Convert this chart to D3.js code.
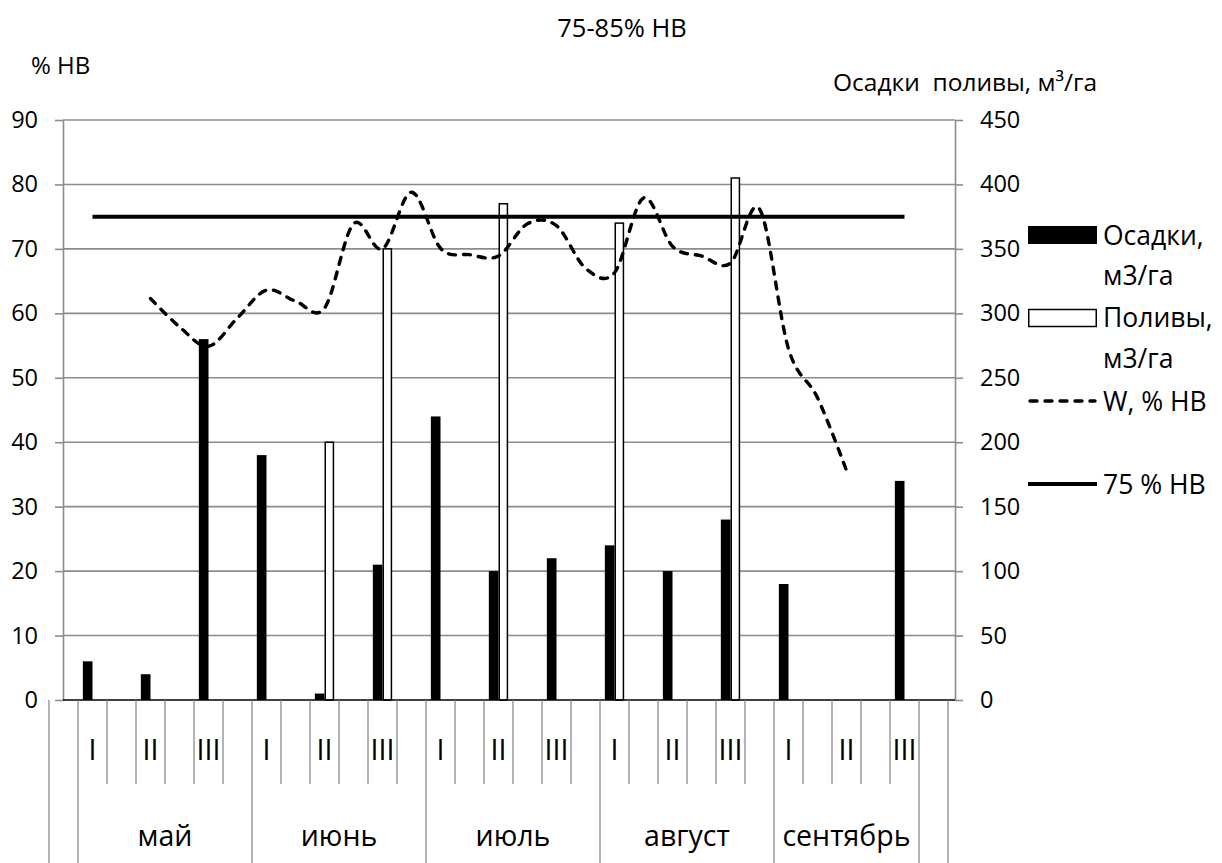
<!DOCTYPE html>
<html><head><meta charset="utf-8">
<script src="https://cdn.jsdelivr.net/npm/d3@7"></script>
<style>
html,body{margin:0;padding:0;background:#fff;}
svg{display:block;font-family:"Open Sans",sans-serif;}
</style></head><body>
<svg id="chart" width="1222" height="863"></svg>
<script>
// ---- data ----
// outer category level (months) and how many inner slots each covers
const monthNames = ["", "май", "июнь", "июль", "август", "сентябрь", ""];
const monthSpans = [1, 6, 6, 6, 6, 5, 1];
// inner category level: one label per slot
const decadeLabels = [
  "",
  "I", "", "II", "", "III", "",
  "I", "", "II", "", "III", "",
  "I", "", "II", "", "III", "",
  "I", "", "II", "", "III", "",
  "I", "", "II", "", "III",
  ""
];
// per decade (May I ... September III), m3/ha
const precipitation = [30, 20, 280, 190, 5, 105, 220, 100, 110, 120, 100, 140, 90, 0, 170];
const irrigation    = [0, 0, 0, 0, 200, 350, 0, 385, 0, 370, 0, 405, 0, 0, 0];
// soil moisture W, % of field capacity, per slot
const moisture = [
  null, null, null,
  62.3, 57.9, 54.9, 59.3, 63.6, 61.9, 60.8, 73.9, 70.0, 78.8,
  70.1, 69.1, 68.9, 73.9, 73.6, 67.0, 66.3, 77.9, 70.4, 68.9,
  67.8, 76.2, 54.5, 46.9, 35.6,
  null, null, null
];
// 75 % threshold, per decade
const threshold = [75, 75, 75, 75, 75, 75, 75, 75, 75, 75, 75, 75, 75, 75, 75];
const leftTicks = [0, 10, 20, 30, 40, 50, 60, 70, 80, 90];
const rightTicks = [0, 50, 100, 150, 200, 250, 300, 350, 400, 450];

// ---- layout ----
const svg = d3.select("#chart");
const plotL = 63, plotR = 955, plotT = 120, plotB = 700;
const grid = "#8c8c8c";

const slots = d3.range(decadeLabels.length);
const x = d3.scaleBand().domain(slots).range([49, 948]).padding(0);
const yL = d3.scaleLinear().domain([0, 90]).range([plotB, plotT]);
const yR = d3.scaleLinear().domain([0, 450]).range([plotB, plotT]);

// slots that carry a decade label hold the bars
const decadeSlots = slots.filter(i => decadeLabels[i] !== "");
const bw = x.bandwidth() / 3;

// gridlines
svg.append("g").selectAll("line").data(leftTicks.filter(d => d > 0)).join("line")
  .attr("x1", plotL).attr("x2", plotR)
  .attr("y1", d => yL(d)).attr("y2", d => yL(d))
  .attr("stroke", grid).attr("stroke-width", 1.6);

// axes
const axL = svg.append("g").attr("transform", `translate(${plotL},0)`)
  .call(d3.axisLeft(yL).tickValues(leftTicks).tickSize(8).tickSizeOuter(0).tickPadding(17));
const axR = svg.append("g").attr("transform", `translate(${plotR},0)`)
  .call(d3.axisRight(yR).tickValues(rightTicks).tickSize(8).tickSizeOuter(0).tickPadding(17));
[axL, axR].forEach(a => {
  a.select(".domain").attr("stroke", grid).attr("stroke-width", 1.6);
  a.selectAll(".tick line").attr("stroke", grid).attr("stroke-width", 1.6);
  a.selectAll(".tick text").attr("fill", "#000")
    .style("font-family", '"Open Sans", sans-serif').style("font-size", "23.5px");
});

// bars: precipitation (filled) left of slot centre, irrigation (outlined) right
const bars = svg.append("g");
bars.selectAll("rect.p").data(precipitation.map((v, i) => ({v, s: decadeSlots[i]})).filter(d => d.v > 0))
  .join("rect").attr("class", "p")
  .attr("x", d => x(d.s) + x.bandwidth() / 2 - bw)
  .attr("width", bw)
  .attr("y", d => yR(d.v)).attr("height", d => yR(0) - yR(d.v))
  .attr("fill", "#000");
bars.selectAll("rect.i").data(irrigation.map((v, i) => ({v, s: decadeSlots[i]})).filter(d => d.v > 0))
  .join("rect").attr("class", "i")
  .attr("x", d => x(d.s) + x.bandwidth() / 2 + 0.75)
  .attr("width", bw - 1.5)
  .attr("y", d => yR(d.v)).attr("height", d => yR(0) - yR(d.v))
  .attr("fill", "#fff").attr("stroke", "#000").attr("stroke-width", 1.5);

// category axis line
svg.append("line").attr("x1", plotL).attr("x2", plotR).attr("y1", plotB).attr("y2", plotB)
  .attr("stroke", "#000").attr("stroke-width", 1.6);

// 75 % line
const thrLine = d3.line().x((d, i) => x(decadeSlots[i]) + x.bandwidth() / 2).y(d => yL(d));
svg.append("path").datum(threshold).attr("d", thrLine)
  .attr("fill", "none").attr("stroke", "#000").attr("stroke-width", 4);

// moisture curve
const wLine = d3.line()
  .defined(d => d != null)
  .x((d, i) => x(i) + x.bandwidth() / 2)
  .y(d => yL(d))
  .curve(d3.curveCardinal.tension(0));
svg.append("path").datum(moisture).attr("d", wLine)
  .attr("fill", "none").attr("stroke", "#000").attr("stroke-width", 3.4)
  .attr("stroke-dasharray", "7,8").attr("stroke-linecap", "round");

// multi-level category labels
const tbl = svg.append("g");
const bounds = d3.range(decadeLabels.length + 1);
const monthStarts = d3.cumsum([0, ...monthSpans]);
const edgeX = k => k < slots.length ? x(k) : x.range()[1];
tbl.selectAll("line").data(bounds).join("line")
  .attr("x1", edgeX).attr("x2", edgeX)
  .attr("y1", plotB).attr("y2", k => monthStarts.includes(k) ? 863 : 784)
  .attr("stroke", "#808080").attr("stroke-width", 1.2);
tbl.selectAll("text.d").data(slots.filter(i => decadeLabels[i] !== "")).join("text")
  .attr("class", "d")
  .attr("x", i => x(i) + x.bandwidth() / 2).attr("y", 760)
  .attr("text-anchor", "middle").style("font-size", "28.5px")
  .text(i => decadeLabels[i]);
tbl.selectAll("text.m").data(monthNames.map((n, j) => ({n, a: monthStarts[j], b: monthStarts[j + 1]})).filter(d => d.n))
  .join("text").attr("class", "m")
  .attr("x", d => (edgeX(d.a) + edgeX(d.b)) / 2).attr("y", 846)
  .attr("text-anchor", "middle").style("font-size", "28.5px")
  .text(d => d.n);

// titles
svg.append("text").attr("x", 622).attr("y", 37).attr("text-anchor", "middle")
  .style("font-size", "25.5px").text("75-85% НВ");
svg.append("text").attr("x", 31).attr("y", 74).style("font-size", "24px").text("% НВ");
svg.append("text").attr("x", 833).attr("y", 91).style("font-size", "24.5px")
  .style("white-space", "pre").text("Осадки  поливы, м³/га");

// legend
const lg = svg.append("g").style("font-size", "26.5px");
const lx = 1028, lw = 69, tx = 1103;
lg.append("rect").attr("x", lx).attr("y", 226).attr("width", lw).attr("height", 18).attr("fill", "#000");
lg.append("text").attr("x", tx).attr("y", 245).text("Осадки,");
lg.append("text").attr("x", tx).attr("y", 285).text("м3/га");
lg.append("rect").attr("x", lx + 0.75).attr("y", 309.5).attr("width", lw - 1.5).attr("height", 17)
  .attr("fill", "#fff").attr("stroke", "#000").attr("stroke-width", 1.5);
lg.append("text").attr("x", tx).attr("y", 327).text("Поливы,");
lg.append("text").attr("x", tx).attr("y", 368).text("м3/га");
lg.append("line").attr("x1", lx + 2).attr("x2", lx + lw - 2).attr("y1", 401).attr("y2", 401)
  .attr("stroke", "#000").attr("stroke-width", 3.4).attr("stroke-dasharray", "7,8").attr("stroke-linecap", "round");
lg.append("text").attr("x", tx).attr("y", 411).text("W, % НВ");
lg.append("line").attr("x1", lx).attr("x2", lx + lw).attr("y1", 484).attr("y2", 484)
  .attr("stroke", "#000").attr("stroke-width", 4);
lg.append("text").attr("x", tx).attr("y", 494).text("75 % НВ");
</script>
</body></html>
